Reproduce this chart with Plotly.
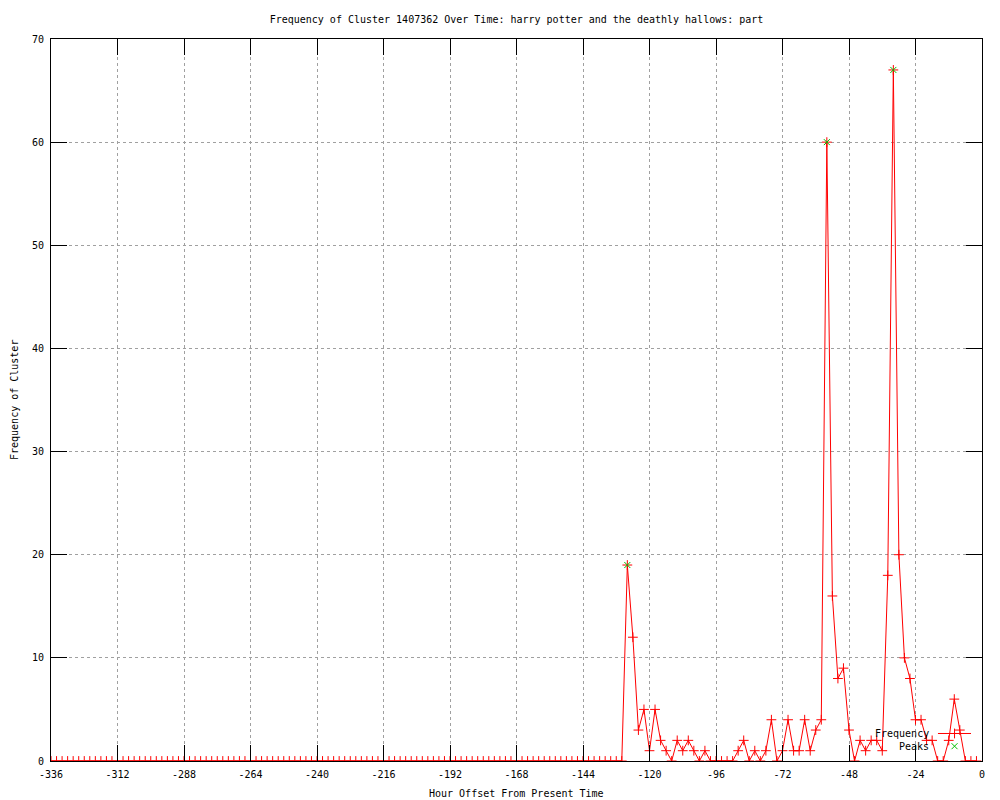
import plotly.graph_objects as go

# ---- data ----
hours = list(range(-336, 0, 2))  # 2-hour bins, -336 .. -2
frequency = [
    0, 0, 0, 0, 0, 0, 0, 0, 0, 0, 0, 0, 0, 0, 0, 0, 0, 0, 0, 0,
    0, 0, 0, 0, 0, 0, 0, 0, 0, 0, 0, 0, 0, 0, 0, 0, 0, 0, 0, 0,
    0, 0, 0, 0, 0, 0, 0, 0, 0, 0, 0, 0, 0, 0, 0, 0, 0, 0, 0, 0,
    0, 0, 0, 0, 0, 0, 0, 0, 0, 0, 0, 0, 0, 0, 0, 0, 0, 0, 0, 0,
    0, 0, 0, 0, 0, 0, 0, 0, 0, 0, 0, 0, 0, 0, 0, 0, 0, 0, 0, 0,
    0, 0, 0, 0,
    # -128 onward
    19, 12, 3, 5, 1, 5, 2, 1, 0, 2, 1, 2, 1, 0, 1, 0,
    0, 0, 0, 0, 1, 2, 0, 1, 0, 1, 4, 0, 1, 4, 1, 1,
    4, 1, 3, 4, 60, 16, 8, 9, 3, 0, 2, 1, 2, 2, 1, 18,
    67, 20, 10, 8, 4, 4, 2, 2, 0, 0, 2, 6, 3, 0, 0, 0,
]
peak_hours = [-128, -56, -32]
peak_values = [19, 60, 67]

x_ticks = [-336, -312, -288, -264, -240, -216, -192, -168, -144, -120, -96, -72, -48, -24, 0]
y_ticks = [0, 10, 20, 30, 40, 50, 60, 70]

title_text = "Frequency of Cluster 1407362 Over Time: harry potter and the deathly hallows: part"
x_title = "Hour Offset From Present Time"
y_title = "Frequency of Cluster"

FONT = "DejaVu Sans Mono"
RED = "#ff0000"
GREEN = "#00c000"

fig = go.Figure()
fig.add_trace(go.Scatter(
    x=hours, y=frequency, mode="lines+markers", name="Frequency",
    line=dict(color=RED, width=1),
    marker=dict(symbol="cross-thin", size=7, color=RED, line=dict(color=RED, width=1)),
    showlegend=False,
))
fig.add_trace(go.Scatter(
    x=peak_hours, y=peak_values, mode="markers", name="Peaks",
    marker=dict(symbol="x-thin", size=6, color=GREEN, line=dict(color=GREEN, width=1)),
    showlegend=False,
))

# legend key (gnuplot style: text on the left, sample on the right)
fig.add_trace(go.Scatter(
    x=[0.9705], y=[0.0381], xaxis="x2", yaxis="y2", mode="markers",
    marker=dict(symbol="cross-thin", size=7, color=RED, line=dict(color=RED, width=1)),
    showlegend=False, hoverinfo="skip",
))
fig.add_trace(go.Scatter(
    x=[0.9705], y=[0.0205], xaxis="x2", yaxis="y2", mode="markers",
    marker=dict(symbol="x-thin", size=6, color=GREEN, line=dict(color=GREEN, width=1)),
    showlegend=False, hoverinfo="skip",
))

axis_common = dict(
    showline=True, linecolor="black", linewidth=1, mirror="ticks",
    ticks="inside", ticklen=16, tickcolor="black", tickwidth=1,
    showgrid=True, gridcolor="#a0a0a0", griddash="dot", gridwidth=1,
    zeroline=False, tickfont=dict(family=FONT, size=10, color="black"),
)

fig.update_layout(
    width=1000, height=800,
    margin=dict(l=43, r=26, t=31, b=47),
    paper_bgcolor="white", plot_bgcolor="white",
    title=dict(text=title_text, x=0.5, xref="paper", y=1 - 11 / 800, yanchor="middle",
               font=dict(family=FONT, size=10, color="black")),
    xaxis=dict(range=[-336, 0], tickvals=x_ticks, ticktext=[str(v) for v in x_ticks],
               ticklabelstandoff=4, **axis_common),
    yaxis=dict(range=[0, 70], tickvals=y_ticks, ticktext=[str(v) for v in y_ticks],
               ticklabelstandoff=4, **axis_common),
    xaxis2=dict(range=[0, 1], overlaying="x", visible=False, fixedrange=True),
    yaxis2=dict(range=[0, 1], overlaying="y", visible=False, fixedrange=True),
    showlegend=False,
    annotations=[
        dict(text=x_title, xref="paper", yref="paper", x=0.5, y=(760 - 793) / 722,
             xanchor="center", yanchor="middle", showarrow=False,
             font=dict(family=FONT, size=10, color="black")),
        dict(text=y_title, xref="paper", yref="paper", x=(13 - 50) / 931, y=0.5,
             xanchor="center", yanchor="middle", textangle=-90, showarrow=False,
             font=dict(family=FONT, size=10, color="black")),
        dict(text="Frequency", xref="paper", yref="paper", x=0.9452, y=0.0381,
             xanchor="right", yanchor="middle", showarrow=False,
             font=dict(family=FONT, size=10, color="black")),
        dict(text="Peaks", xref="paper", yref="paper", x=0.9452, y=0.0205,
             xanchor="right", yanchor="middle", showarrow=False,
             font=dict(family=FONT, size=10, color="black")),
    ],
    shapes=[
        dict(type="line", xref="paper", yref="paper", x0=0.9527, x1=0.9882,
             y0=0.0381, y1=0.0381, line=dict(color=RED, width=1)),
    ],
)

fig.write_html("out.html")
